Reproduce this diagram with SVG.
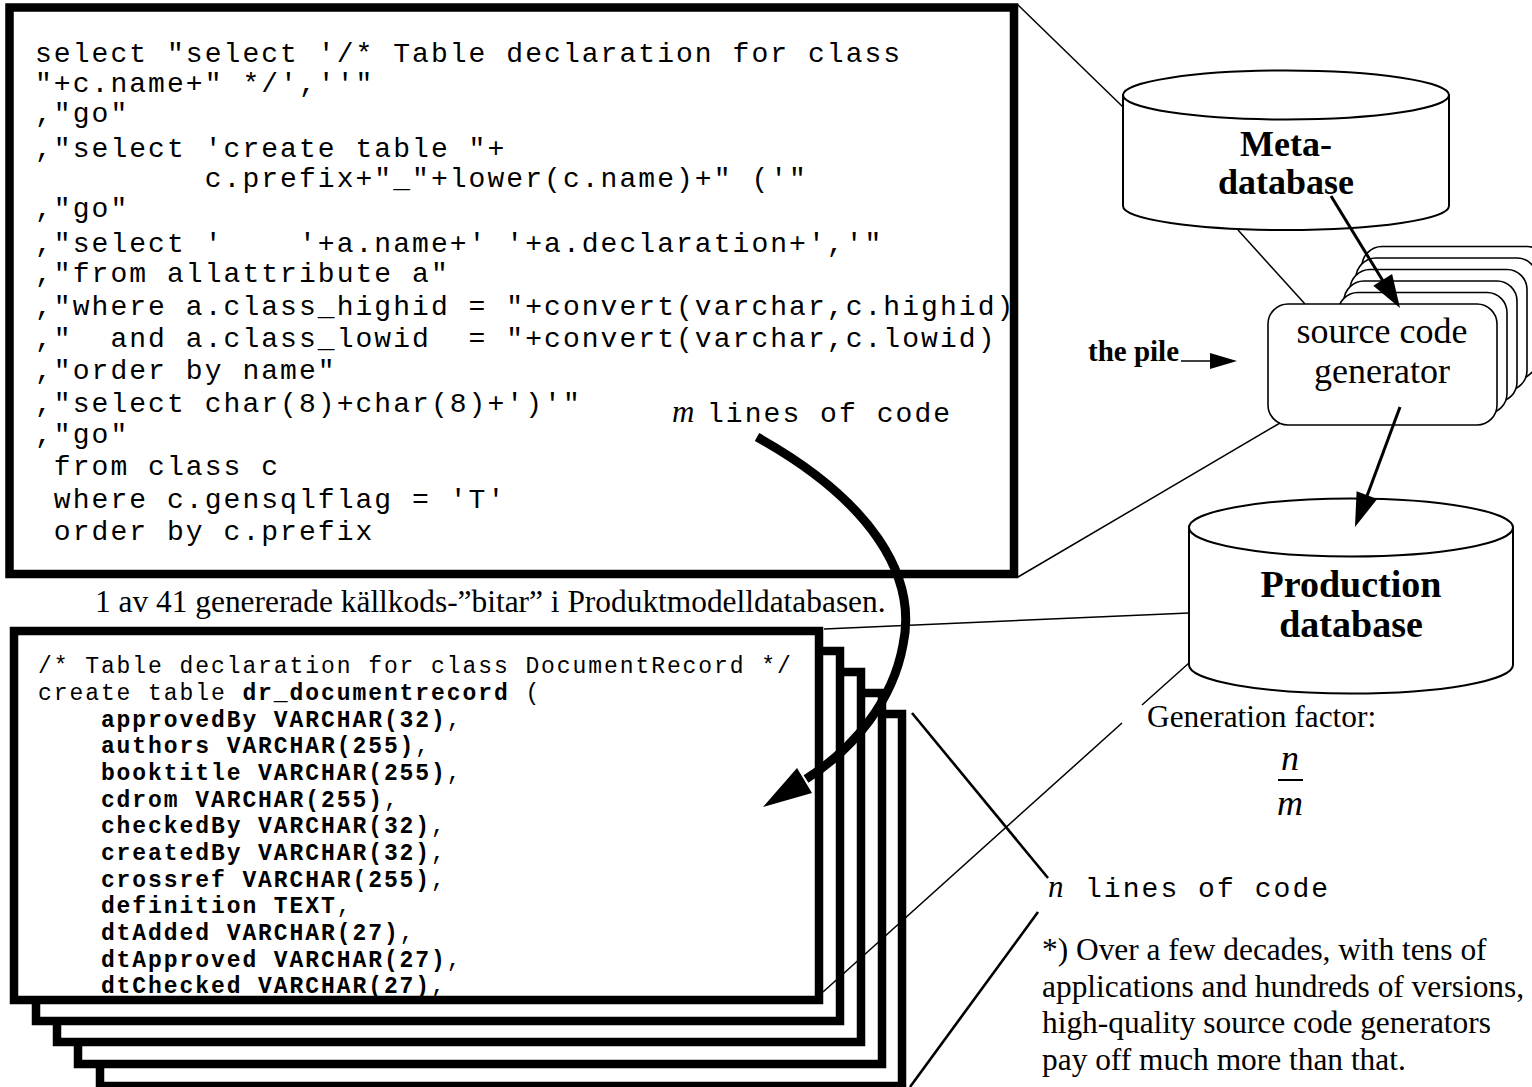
<svg xmlns="http://www.w3.org/2000/svg" width="1532" height="1087" viewBox="0 0 1532 1087">
<style>
.mono{font-family:"Liberation Mono","Courier New",monospace;fill:#000;white-space:pre}
.serif{font-family:"Liberation Serif","Times New Roman",serif;fill:#000}
.big{stroke:#000;stroke-width:8.5;fill:#fff}
.thin{stroke:#000;stroke-width:1.5;fill:none}
.med{stroke:#000;stroke-width:2.6;fill:none}
.cyl{stroke:#000;stroke-width:2;fill:#fff}
.gen{stroke:#000;stroke-width:1.6;fill:#fff}
.t1{font-size:28px;letter-spacing:2.05px}
.t2{font-size:23px;letter-spacing:1.92px}
.b{font-weight:bold}
.it{font-style:italic}
.body{font-size:31.4px}
</style>
<rect x="0" y="0" width="1532" height="1087" fill="#fff"/>

<g id="generator-script">
<rect class="big" x="9.5" y="7.5" width="1004.5" height="566.5"/>
<text class="mono t1" x="35" y="62" xml:space="preserve">select "select '/* Table declaration for class</text>
<text class="mono t1" x="35" y="92" xml:space="preserve">"+c.name+" */',''"</text>
<text class="mono t1" x="35" y="122" xml:space="preserve">,"go"</text>
<text class="mono t1" x="35" y="157" xml:space="preserve">,"select 'create table "+</text>
<text class="mono t1" x="35" y="187" xml:space="preserve">         c.prefix+"_"+lower(c.name)+" ('"</text>
<text class="mono t1" x="35" y="217" xml:space="preserve">,"go"</text>
<text class="mono t1" x="35" y="252" xml:space="preserve">,"select '    '+a.name+' '+a.declaration+','"</text>
<text class="mono t1" x="35" y="282" xml:space="preserve">,"from allattribute a"</text>
<text class="mono t1" x="35" y="315" xml:space="preserve">,"where a.class_highid = "+convert(varchar,c.highid)</text>
<text class="mono t1" x="35" y="347" xml:space="preserve">,"  and a.class_lowid  = "+convert(varchar,c.lowid)</text>
<text class="mono t1" x="35" y="379" xml:space="preserve">,"order by name"</text>
<text class="mono t1" x="35" y="412" xml:space="preserve">,"select char(8)+char(8)+')'"</text>
<text class="mono t1" x="35" y="443" xml:space="preserve">,"go"</text>
<text class="mono t1" x="35" y="475" xml:space="preserve"> from class c</text>
<text class="mono t1" x="35" y="508" xml:space="preserve"> where c.gensqlflag = 'T'</text>
<text class="mono t1" x="35" y="540" xml:space="preserve"> order by c.prefix</text>
<text x="672" y="422"><tspan class="serif it" font-size="31">m</tspan><tspan class="mono t1" x="707">lines of code</tspan></text>
</g>

<text id="caption" class="serif body" x="95" y="612">1 av 41 genererade källkods-”bitar” i Produktmodelldatabasen.</text>

<g id="generated-code">
<rect class="big" x="100" y="714" width="802" height="372"/>
<rect class="big" x="78" y="693" width="804" height="371"/>
<rect class="big" x="57" y="672" width="804" height="370"/>
<rect class="big" x="36" y="651" width="804" height="370"/>
<rect class="big" x="14" y="631" width="805" height="369"/>
<text class="mono t2" x="38" y="673.3" xml:space="preserve">/* Table declaration for class DocumentRecord */</text>
<text class="mono t2" x="38" y="700" xml:space="preserve">create table <tspan class="b">dr_documentrecord</tspan> (</text>
<text class="mono t2" x="100.9" y="726.7"><tspan class="b">approvedBy VARCHAR(32)</tspan>,</text>
<text class="mono t2" x="100.9" y="753.3"><tspan class="b">authors VARCHAR(255)</tspan>,</text>
<text class="mono t2" x="100.9" y="780"><tspan class="b">booktitle VARCHAR(255)</tspan>,</text>
<text class="mono t2" x="100.9" y="806.7"><tspan class="b">cdrom VARCHAR(255)</tspan>,</text>
<text class="mono t2" x="100.9" y="833.3"><tspan class="b">checkedBy VARCHAR(32)</tspan>,</text>
<text class="mono t2" x="100.9" y="860"><tspan class="b">createdBy VARCHAR(32)</tspan>,</text>
<text class="mono t2" x="100.9" y="886.7"><tspan class="b">crossref VARCHAR(255)</tspan>,</text>
<text class="mono t2" x="100.9" y="913.3"><tspan class="b">definition TEXT</tspan>,</text>
<text class="mono t2" x="100.9" y="940"><tspan class="b">dtAdded VARCHAR(27)</tspan>,</text>
<text class="mono t2" x="100.9" y="966.7"><tspan class="b">dtApproved VARCHAR(27)</tspan>,</text>
<text class="mono t2" x="100.9" y="993.3"><tspan class="b">dtChecked VARCHAR(27)</tspan>,</text>
</g>

<g id="meta-database">
<path class="cyl" d="M1123,95 V206 A163,24 0 0 0 1449,206 V95 Z"/>
<ellipse class="cyl" cx="1286" cy="95" rx="163" ry="24.5"/>
<text class="serif b" font-size="36" text-anchor="middle"><tspan x="1286" y="155.5">Meta-</tspan><tspan x="1286" y="194">database</tspan></text>
</g>

<g id="source-code-generator">
<rect class="gen" x="1362" y="246.5" width="185" height="121" rx="20"/>
<rect class="gen" x="1356" y="258" width="181" height="121" rx="20"/>
<rect class="gen" x="1350" y="269.5" width="177" height="121" rx="20"/>
<rect class="gen" x="1344" y="281" width="173" height="121" rx="20"/>
<rect class="gen" x="1338" y="292.5" width="169" height="121" rx="20"/>
<rect class="gen" x="1268" y="304" width="229" height="121" rx="20"/>
<text class="serif" font-size="36" text-anchor="middle"><tspan x="1382" y="343">source code</tspan><tspan x="1382" y="383">generator</tspan></text>
</g>

<g id="production-database">
<path class="cyl" d="M1189,527.5 V665 A162,28.5 0 0 0 1513,665 V527.5 Z"/>
<ellipse class="cyl" cx="1351" cy="527.5" rx="162" ry="29"/>
<text class="serif b" font-size="38" text-anchor="middle"><tspan x="1351" y="597">Production</tspan><tspan x="1351" y="637">database</tspan></text>
</g>

<g id="labels">
<text class="serif b" font-size="29" x="1088" y="361">the pile</text>
<text class="serif body" x="1147" y="727">Generation factor:</text>
<text class="serif it" font-size="36" text-anchor="middle" x="1290" y="770">n</text>
<line x1="1278" y1="780" x2="1303" y2="780" stroke="#000" stroke-width="2"/>
<text class="serif it" font-size="36" text-anchor="middle" x="1290" y="815">m</text>
<text x="1048" y="897"><tspan class="serif it" font-size="31">n</tspan><tspan class="mono t1" x="1085">lines of code</tspan></text>
<text class="serif body"><tspan x="1042" y="960">*) Over a few decades, with tens of</tspan><tspan x="1042" y="997">applications and hundreds of versions,</tspan><tspan x="1042" y="1033">high-quality source code generators</tspan><tspan x="1042" y="1070">pay off much more than that.</tspan></text>
</g>

<g id="connectors">
<line class="thin" x1="1017" y1="4" x2="1123" y2="107"/>
<line class="thin" x1="1238" y1="230" x2="1305" y2="304"/>
<line class="thin" x1="1280" y1="423" x2="1018" y2="577"/>
<line class="thin" x1="824" y1="629" x2="1189" y2="613"/>
<line class="thin" x1="1189" y1="663" x2="1142" y2="705"/>
<line class="thin" x1="1122" y1="723" x2="823" y2="992"/>
<line class="med" x1="912" y1="713" x2="1048" y2="878"/>
<line class="med" x1="910" y1="1087" x2="1038" y2="912"/>
<line x1="1331" y1="196" x2="1383" y2="281" stroke="#000" stroke-width="3"/>
<polygon points="1400,308 1373.3,285.7 1392.1,274.1" fill="#000"/>
<line x1="1400" y1="407" x2="1367" y2="496" stroke="#000" stroke-width="3"/>
<polygon points="1355,527 1356.6,491.3 1377.2,499.1" fill="#000"/>
<line x1="1181" y1="361" x2="1212" y2="361" stroke="#000" stroke-width="1.5"/>
<polygon points="1237,361 1210,353 1210,369" fill="#000"/>
<path d="M757,437 C870,500 918,575 903,645 C893,700 855,748 806,779" fill="none" stroke="#000" stroke-width="9"/>
<polygon points="763,807 797,768 812,793" fill="#000"/>
</g>
</svg>
